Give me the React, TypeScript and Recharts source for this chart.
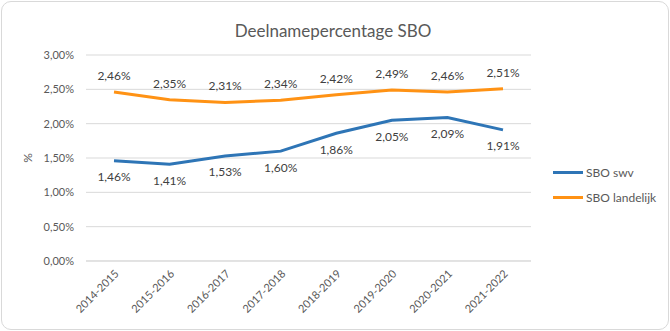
import React from 'react';
import {
  LineChart,
  Line,
  XAxis,
  YAxis,
  CartesianGrid,
  Legend,
  LabelList,
} from 'recharts';

const years = [
  '2014-2015',
  '2015-2016',
  '2016-2017',
  '2017-2018',
  '2018-2019',
  '2019-2020',
  '2020-2021',
  '2021-2022',
];
const sboSwv = [1.46, 1.41, 1.53, 1.6, 1.86, 2.05, 2.09, 1.91];
const sboLandelijk = [2.46, 2.35, 2.31, 2.34, 2.42, 2.49, 2.46, 2.51];
const yTicks = [0, 0.5, 1, 1.5, 2, 2.5, 3];
const seriesOrder = ['swv', 'landelijk'];

const data = years.map((year, i) => ({
  year,
  swv: sboSwv[i],
  landelijk: sboLandelijk[i],
}));

const FONT = 'Lato, "Liberation Sans", sans-serif';
const BLUE = '#2E75B6';
const ORANGE = '#FF9214';

const pct = (v: number) => v.toFixed(2).replace('.', ',') + '%';

const LegendContent = ({ payload }: any) => {
  const items = [...(payload || [])].sort(
    (a: any, b: any) => seriesOrder.indexOf(a.dataKey) - seriesOrder.indexOf(b.dataKey)
  );
  return (
    <div style={{ fontFamily: FONT, fontSize: 12, color: '#595959' }}>
      {items.map((p: any) => (
        <div key={p.value} style={{ display: 'flex', alignItems: 'center', height: 25 }}>
          <span style={{ display: 'inline-block', width: 30, height: 3, background: p.color, marginRight: 3 }} />
          {p.value}
        </div>
      ))}
    </div>
  );
};

export default function App() {
  return (
    <div style={{ position: 'absolute', left: 0, top: 0, width: 670, height: 331 }}>
      <div
        style={{
          position: 'absolute',
          left: 1,
          top: 1,
          width: 666,
          height: 327,
          border: '1px solid #D9D9D9',
          borderRadius: 10,
          background: '#fff',
        }}
      />
      <div
        style={{
          position: 'absolute',
          left: 0,
          top: 20,
          width: 666,
          textAlign: 'center',
          fontFamily: FONT,
          fontSize: 17,
          color: '#595959',
        }}
      >
        Deelnamepercentage SBO
      </div>
      <div style={{ position: 'absolute', left: 0, top: 0 }}>
        <LineChart
          width={670}
          height={331}
          data={data}
          margin={{ top: 55, right: 23, left: 0, bottom: 0 }}
        >
          <CartesianGrid vertical={false} stroke="#D9D9D9" />
          <XAxis
            dataKey="year"
            height={70}
            padding={{ left: 28, right: 28 }}
            axisLine={{ stroke: '#D9D9D9' }}
            tickLine={false}
            interval={0}
            angle={-45}
            textAnchor="end"
            tick={{ fontSize: 11, fill: '#595959', fontFamily: FONT }}
          />
          <YAxis
            width={86}
            domain={[0, 3]}
            ticks={yTicks}
            tickFormatter={pct}
            axisLine={false}
            tickLine={false}
            tickMargin={6}
            tick={{ fontSize: 11, fill: '#595959', fontFamily: FONT }}
            label={{
              value: '%',
              angle: -90,
              position: 'center',
              dx: -15,
              style: { fontSize: 12, fill: '#595959', fontFamily: FONT },
            }}
          />
          <Legend
            layout="vertical"
            align="right"
            verticalAlign="top"
            wrapperStyle={{ left: 553, top: 160, width: 116 }}
            content={<LegendContent />}
          />
          <Line
            dataKey="swv"
            name="SBO swv"
            stroke={BLUE}
            strokeWidth={3}
            dot={false}
            isAnimationActive={false}
          >
            <LabelList
              dataKey="swv"
              position="bottom"
              offset={12}
              formatter={(v: any) => pct(Number(v))}
              style={{ fontSize: 12, fill: '#404040', fontFamily: FONT }}
            />
          </Line>
          <Line
            dataKey="landelijk"
            name="SBO landelijk"
            stroke={ORANGE}
            strokeWidth={3}
            dot={false}
            isAnimationActive={false}
          >
            <LabelList
              dataKey="landelijk"
              position="top"
              offset={12}
              formatter={(v: any) => pct(Number(v))}
              style={{ fontSize: 12, fill: '#404040', fontFamily: FONT }}
            />
          </Line>
        </LineChart>
      </div>
    </div>
  );
}
